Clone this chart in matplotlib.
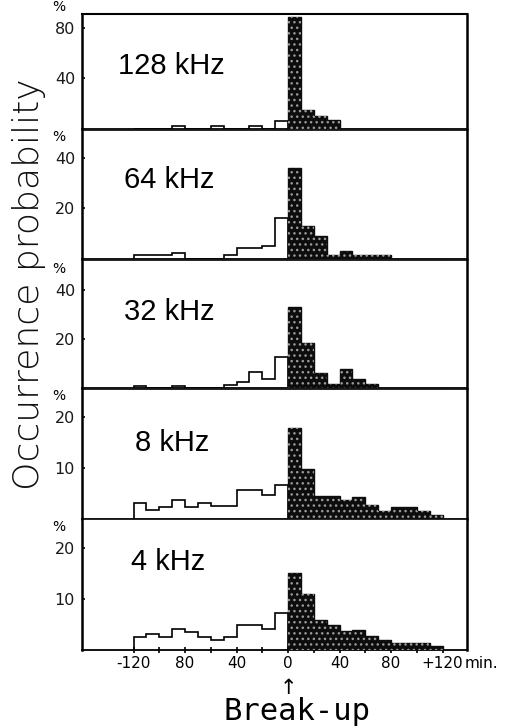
import numpy as np
import matplotlib
matplotlib.use("Agg")
import matplotlib.pyplot as plt

# 10-minute bins around the break-up time (minutes)
bin_edges = np.arange(-120, 121, 10)

panel_labels = ["128 kHz", "64 kHz", "32 kHz", "8 kHz", "4 kHz"]

# occurrence probability (%) before break-up, bins -120 ... -10
before = {
    "128 kHz": [0, 0, 0, 2.6, 0, 0, 2.6, 0, 0, 2.6, 0, 6.3],
    "64 kHz": [1.6, 1.6, 1.6, 2.5, 0, 0, 0, 1.6, 4.2, 4.2, 5.1, 16.1],
    "32 kHz": [1.0, 0, 0, 0.8, 0, 0, 0, 1.1, 2.4, 6.7, 3.7, 12.5],
    "8 kHz": [3.1, 1.8, 2.3, 3.8, 2.3, 3.2, 2.6, 2.6, 5.7, 5.7, 4.7, 6.6],
    "4 kHz": [2.5, 3.1, 2.5, 4.2, 3.5, 2.5, 2.0, 2.5, 4.8, 4.8, 4.2, 7.2],
}
# occurrence probability (%) after break-up, bins 0 ... 110
after = {
    "128 kHz": [88.6, 15.1, 10.3, 7.1, 0, 0, 0, 0, 0, 0, 0, 0],
    "64 kHz": [35.8, 13.0, 9.2, 1.6, 3.2, 1.6, 1.6, 1.6, 0, 0, 0, 0],
    "32 kHz": [32.8, 18.2, 6.0, 1.5, 7.8, 3.7, 1.5, 0, 0, 0, 0, 0],
    "8 kHz": [17.8, 9.9, 4.6, 4.6, 3.8, 4.3, 2.8, 1.6, 2.3, 2.3, 1.6, 0.8],
    "4 kHz": [15.0, 10.9, 5.8, 4.8, 3.7, 3.9, 2.7, 2.0, 1.3, 1.3, 1.3, 0.8],
}

y_ticks = {
    "128 kHz": [40, 80],
    "64 kHz": [20, 40],
    "32 kHz": [20, 40],
    "8 kHz": [10, 20],
    "4 kHz": [10, 20],
}
y_max = {"128 kHz": 91, "64 kHz": 51, "32 kHz": 52, "8 kHz": 25.5, "4 kHz": 25.6}

x_ticks = [-120, -100, -80, -60, -40, -20, 0, 20, 40, 60, 80, 100, 120]
x_ticklabels = ["-120", "", "80", "", "40", "", "0", "", "40", "", "80", "", "+120"]

W, H = 505, 728
fig = plt.figure(figsize=(W / 100, H / 100), dpi=100)

# panel extents in pixels (top, bottom)
panel_px = [(14, 129), (130, 259), (260, 388), (389, 519), (519, 650)]
left_px, right_px = 82, 467

neg_edges = bin_edges[bin_edges <= 0]
pos_edges = bin_edges[bin_edges >= 0]

label_font = dict(family="Liberation Sans", fontsize=21)
label_pos_px = {"128 kHz": (118, 66), "64 kHz": (124, 180), "32 kHz": (124, 312),
                "8 kHz": (135, 443), "4 kHz": (131, 562)}

axes = []
for i, name in enumerate(panel_labels):
    top, bot = panel_px[i]
    ax = fig.add_axes([left_px / W, 1 - bot / H, (right_px - left_px) / W, (bot - top) / H])
    axes.append(ax)
    ax.set_xlim(-160, 139)
    ax.set_ylim(0, y_max[name])

    # before break-up: open step outline
    ax.stairs(before[name], neg_edges, baseline=0, fill=False,
              color="black", linewidth=1.2, zorder=3)
    # after break-up: dark filled bars with a speckled texture
    ax.stairs(after[name], pos_edges, baseline=0, fill=True,
              facecolor="#0d0d0d", edgecolor="#0d0d0d", linewidth=1.0, zorder=3)
    ax.stairs(after[name], pos_edges, baseline=0, fill=True,
              facecolor="none", edgecolor="#9a9a9a", hatch="...",
              linewidth=0, zorder=4)

    for s in ["left", "right"]:
        ax.spines[s].set_linewidth(1.8)
    ax.spines["top"].set_linewidth(1.5 if i == 0 else 0.6)
    ax.spines["bottom"].set_linewidth(1.3)

    ax.set_yticks(y_ticks[name])
    ax.set_yticklabels([str(t) for t in y_ticks[name]])
    ax.tick_params(axis="y", direction="in", length=2, width=1.2, pad=5,
                   labelsize=11.5, labelcolor="#1a1a1a")
    ax.annotate("%", xy=(0, y_ticks[name][-1]), xycoords=("axes fraction", "data"),
                xytext=(-17, 10), textcoords="offset points", ha="center",
                va="bottom", fontsize=10, annotation_clip=False)

    lx, ly = label_pos_px[name]
    fig.text(lx / W, 1 - ly / H, name, ha="left", va="center", **label_font)

    if i < len(panel_labels) - 1:
        ax.set_xticks([])
    else:
        ax.set_xticks(x_ticks)
        ax.set_xticklabels(x_ticklabels)
        ax.tick_params(axis="x", direction="inout", length=5, width=1.2, pad=2,
                       labelsize=11)
        ax.annotate("min.", xy=(135, 0), xycoords=("data", "axes fraction"),
                    xytext=(2, -4.5), textcoords="offset points", ha="left",
                    va="top", fontsize=11, annotation_clip=False)

fig.text(29 / W, 1 - 284 / H, "Occurrence probability", rotation=90,
         ha="center", va="center", fontsize=26, fontweight="light",
         family="DejaVu Sans", color="#111111")

fig.text(288 / W, 1 - 688 / H, "↑", ha="center", va="center", fontsize=15,
         family="DejaVu Sans")
fig.text(297 / W, 1 - 711 / H, "Break-up", ha="center", va="center",
         fontsize=22, family="DejaVu Sans Mono")

fig.savefig("out.png", dpi=100)
